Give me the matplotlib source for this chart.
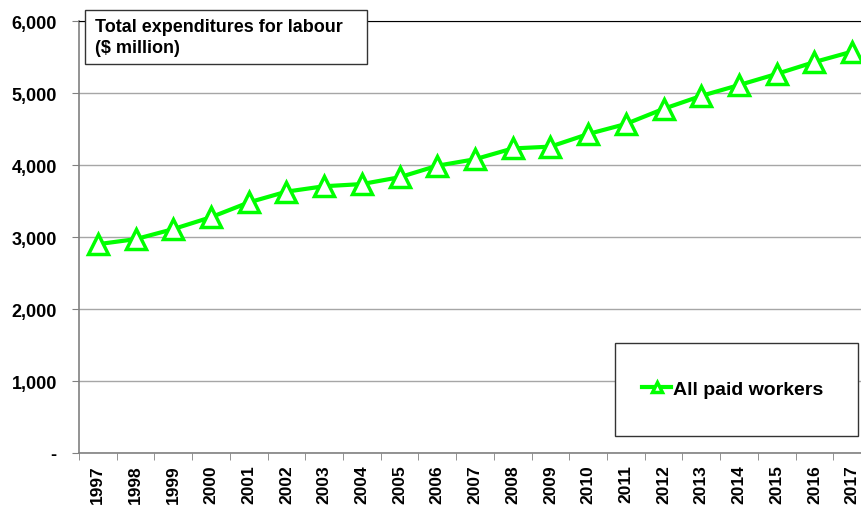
import numpy as np
import matplotlib.pyplot as plt
from matplotlib.patches import Rectangle

plt.rcParams['font.family'] = ['Liberation Sans', 'DejaVu Sans']

# Data
years = [str(y) for y in range(1997, 2018)]
spending = [2900, 2970, 3110, 3275, 3480, 3630, 3705, 3735, 3830, 3990, 4080,
            4230, 4255, 4430, 4570, 4780, 4960, 5110, 5265, 5430, 5575]
y_ticks = [0, 1000, 2000, 3000, 4000, 5000, 6000]
y_labels = ['-', '1,000', '2,000', '3,000', '4,000', '5,000', '6,000']

W, H = 862, 506
fig = plt.figure(figsize=(W / 100, H / 100), dpi=100)
# plot area runs slightly past the right edge, as in the original
ax = fig.add_axes([79 / W, 1 - 454 / H, (871 - 79) / W, (454 - 22) / H])

x = np.arange(len(years))
green = '#00ff00'
line, = ax.plot(x, spending, color=green, lw=3, marker='^', ms=14, mfc='white',
                mec=green, mew=2.5, label='All paid workers', zorder=3)

ax.set_xlim(-0.5, len(years) - 0.5)
ax.set_ylim(0, 6000)
ax.set_yticks(y_ticks)
ax.set_yticklabels(y_labels, fontsize=13, fontweight='bold')
ax.set_xticks(x)
ax.set_xticklabels(years, rotation=90, fontsize=12.5, fontweight='bold')
ax.tick_params(axis='x', length=0, pad=8)
ax.set_xticks(np.arange(-0.5, len(years), 1), minor=True)
ax.tick_params(axis='x', which='minor', length=5, color='#808080')
ax.tick_params(axis='y', length=5, color='#808080', pad=11)

ax.grid(axis='y', color='#a6a6a6', lw=1)
ax.set_axisbelow(True)
for s in ['left', 'bottom']:
    ax.spines[s].set_color('#808080')
    ax.spines[s].set_linewidth(1.2)
ax.spines['top'].set_color('black')
ax.spines['right'].set_visible(False)

# title box
fig.patches.append(Rectangle((85 / W, 1 - 65 / H), (367 - 85) / W, (65 - 11) / H,
                             transform=fig.transFigure, fc='white', ec='#333333',
                             lw=1, zorder=5))
fig.text(95 / W, 1 - 38 / H, 'Total expenditures for labour\n($ million)',
         fontsize=13, fontweight='bold', va='center', ha='left',
         linespacing=1.25, zorder=6)

# legend box
fig.patches.append(Rectangle((615 / W, 1 - 437 / H), (858 - 615) / W, (437 - 344) / H,
                             transform=fig.transFigure, fc='white', ec='#333333',
                             lw=1, zorder=1))
leg = fig.legend(handles=[line], loc='center left',
                 bbox_to_anchor=(642 / W, 1 - 390 / H),
                 frameon=False, prop={'weight': 'bold', 'size': 14},
                 markerscale=0.5, handlelength=1.5, handletextpad=0.1,
                 borderpad=0, borderaxespad=0)
leg.set_zorder(6)

fig.savefig('out.png', dpi=100)
